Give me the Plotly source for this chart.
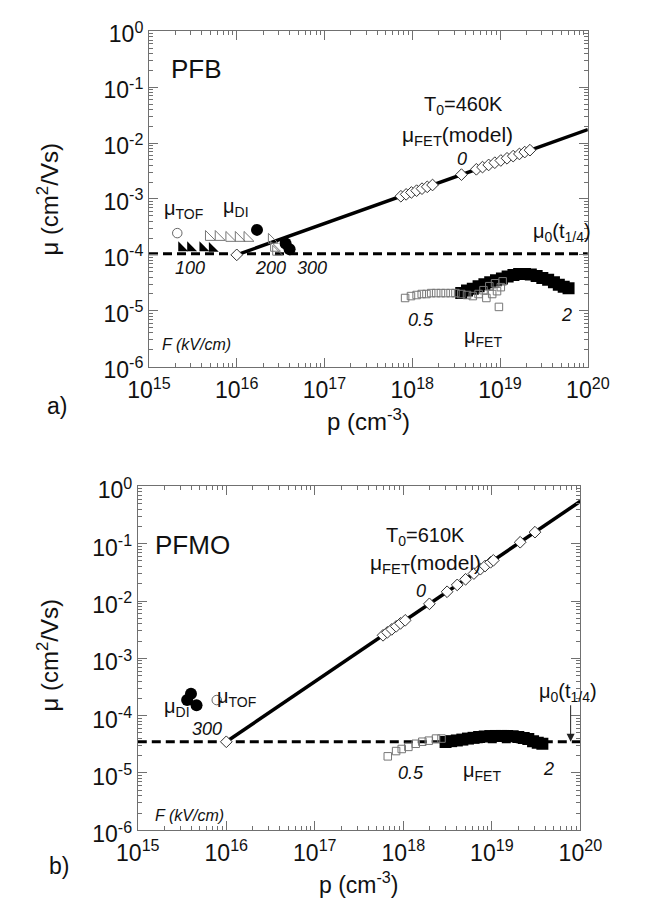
import plotly.graph_objects as go

FONT = "Liberation Sans"

# ---------------- panel a) PFB ----------------
a_model_p = [1.0e16, 1.0e20]
a_model_mu = [1.0e-4, 1.75e-2]
a_mu0 = 1.05e-4
a_diam_p = [1.0e16, 7.41e17, 8.51e17, 9.77e17, 1.12e18, 1.29e18, 1.48e18, 1.70e18, 3.63e18, 5.37e18,
            6.31e18, 7.41e18, 8.71e18, 1.02e19, 1.20e19, 1.41e19, 1.66e19, 1.91e19, 2.19e19]
a_diam_mu = [1.0e-4, 1.12e-3, 1.21e-3, 1.31e-3, 1.41e-3, 1.53e-3, 1.65e-3, 1.78e-3, 2.73e-3, 3.40e-3,
             3.72e-3, 4.07e-3, 4.46e-3, 4.89e-3, 5.35e-3, 5.85e-3, 6.40e-3, 6.92e-3, 7.48e-3]
a_tof_p = [2.1e15]
a_tof_mu = [2.45e-4]
a_di_p = [1.7e16, 3.6e16, 4.0e16]
a_di_mu = [2.8e-4, 1.6e-4, 1.26e-4]
a_trif_p = [2.35e15, 2.97e15, 4.1e15, 5.25e15]
a_trif_mu = [1.33e-4, 1.33e-4, 1.33e-4, 1.30e-4]
a_trio_p = [4.8e15, 6.2e15, 8.2e15, 1.05e16, 1.32e16, 2.5e16, 2.65e16, 2.8e16]
a_trio_mu = [2.08e-4, 2.08e-4, 2.0e-4, 2.0e-4, 2.0e-4, 1.85e-4, 1.33e-4, 1.13e-4]
a_fet_open_p = [8.28e17, 9.66e17, 1.12e18, 1.28e18, 1.45e18, 1.64e18, 1.87e18, 2.12e18, 2.40e18, 2.73e18,
                3.10e18, 3.61e18, 4.20e18, 4.89e18, 5.69e18, 6.47e18, 6.98e18, 7.54e18, 8.13e18, 8.77e18,
                9.23e18, 9.70e18, 1.02e19, 1.07e19]
a_fet_open_mu = [1.69e-5, 1.83e-5, 1.91e-5, 1.99e-5, 1.99e-5, 2.07e-5, 2.07e-5, 2.07e-5, 2.07e-5, 2.07e-5,
                 2.07e-5, 1.99e-5, 1.91e-5, 1.83e-5, 1.99e-5, 2.33e-5, 1.69e-5, 2.75e-5, 1.99e-5, 3.10e-5,
                 2.24e-5, 1.17e-5, 2.64e-5, 3.36e-5]
a_fet_p = [3.61e18, 4.20e18, 4.89e18, 5.69e18, 6.63e18, 7.72e18, 8.99e18, 1.05e19, 1.22e19, 1.42e19,
           1.65e19, 1.92e19, 2.24e19, 2.61e19, 3.03e19, 3.53e19, 4.11e19, 4.67e19, 5.31e19, 6.03e19]
a_fet_mu = [2.07e-5, 2.29e-5, 2.48e-5, 2.75e-5, 2.98e-5, 3.23e-5, 3.50e-5, 3.79e-5, 4.11e-5, 4.37e-5,
            4.55e-5, 4.55e-5, 4.46e-5, 4.20e-5, 3.87e-5, 3.57e-5, 3.23e-5, 2.92e-5, 2.69e-5, 2.53e-5]

# ---------------- panel b) PFMO ----------------
b_model_p = [1.0e16, 1.0e20]
b_model_mu = [3.5e-5, 0.55]
b_mu0 = 3.5e-5
b_diam_p = [1.0e16, 5.9e17, 6.6e17, 7.4e17, 8.3e17, 9.3e17, 1.05e18, 1.97e18, 3.12e18, 4.06e18,
            5.05e18, 6.27e18, 7.41e18, 8.38e18, 9.66e18, 1.04e19, 2.09e19, 3.07e19]
b_diam_mu = [3.5e-5, 2.52e-3, 2.84e-3, 3.20e-3, 3.61e-3, 4.08e-3, 4.60e-3, 8.93e-3, 1.45e-2, 1.91e-2,
             2.39e-2, 3.01e-2, 3.59e-2, 4.07e-2, 4.73e-2, 5.12e-2, 0.106, 0.159]
b_tof_p = [7.8e15]
b_tof_mu = [1.87e-4]
b_di_p = [3.99e15, 3.61e15, 4.61e15]
b_di_mu = [2.41e-4, 1.87e-4, 1.52e-4]
b_fet_open_p = [6.67e17, 8.29e17, 9.59e17, 1.14e18, 1.38e18, 1.64e18, 1.94e18, 2.34e18, 2.70e18]
b_fet_open_mu = [1.95e-5, 2.41e-5, 2.62e-5, 2.85e-5, 3.23e-5, 3.51e-5, 3.66e-5, 3.98e-5, 3.98e-5]
b_fet_p = [3.0e18, 3.47e18, 4.02e18, 4.64e18, 5.37e18, 6.21e18, 7.18e18, 8.31e18, 9.61e18, 1.11e19,
           1.28e19, 1.49e19, 1.72e19, 1.99e19, 2.29e19, 2.58e19, 2.92e19, 3.30e19, 3.72e19]
b_fet_mu = [3.47e-5, 3.59e-5, 3.69e-5, 3.82e-5, 3.98e-5, 4.10e-5, 4.24e-5, 4.33e-5, 4.40e-5, 4.42e-5,
            4.42e-5, 4.42e-5, 4.38e-5, 4.24e-5, 4.06e-5, 3.90e-5, 3.59e-5, 3.37e-5, 3.23e-5]

# ---------------- axes ticks ----------------
x_exps = [15, 16, 17, 18, 19, 20]
y_exps = [-6, -5, -4, -3, -2, -1, 0]
x_tickvals = [10.0 ** e for e in x_exps]
x_ticktext = ["10<sup>%d</sup>" % e for e in x_exps]
y_tickvals = [10.0 ** e for e in y_exps]
y_ticktext = ["10<sup>%d</sup>" % e for e in y_exps]

fig = go.Figure()

GREY = "#707070"


def add_panel(xa, ya, model_p, model_mu, mu0, diam_p, diam_mu, tof_p, tof_mu, di_p, di_mu,
              fo_p, fo_mu, f_p, f_mu, trif=None, trio=None):
    kw = dict(xaxis=xa, yaxis=ya, showlegend=False, hoverinfo="skip")
    fig.add_trace(go.Scatter(x=[10.0 ** x_exps[0], 10.0 ** x_exps[-1]], y=[mu0, mu0], mode="lines",
                             line=dict(color="black", width=3, dash="9px,5px"), **kw))
    fig.add_trace(go.Scatter(x=model_p, y=model_mu, mode="lines",
                             line=dict(color="black", width=3.5), **kw))
    fig.add_trace(go.Scatter(x=diam_p, y=diam_mu, mode="markers",
                             marker=dict(symbol="diamond", size=9, color="white",
                                         line=dict(color="#333", width=1)), **kw))
    if trio is not None:
        fig.add_trace(go.Scatter(x=trio[0], y=trio[1], mode="markers",
                                 marker=dict(symbol="triangle-sw-open", size=11, color="#777",
                                             line=dict(width=1)), **kw))
    if trif is not None:
        fig.add_trace(go.Scatter(x=trif[0], y=trif[1], mode="markers",
                                 marker=dict(symbol="triangle-sw", size=11, color="black",
                                             line=dict(width=0)), **kw))
    fig.add_trace(go.Scatter(x=tof_p, y=tof_mu, mode="markers",
                             marker=dict(symbol="circle-open", size=9.5, color="#666",
                                         line=dict(width=1)), **kw))
    fig.add_trace(go.Scatter(x=di_p, y=di_mu, mode="markers",
                             marker=dict(symbol="circle", size=12, color="black"), **kw))
    fig.add_trace(go.Scatter(x=f_p, y=f_mu, mode="markers",
                             marker=dict(symbol="square", size=12, color="black"), **kw))
    fig.add_trace(go.Scatter(x=fo_p, y=fo_mu, mode="markers",
                             marker=dict(symbol="square-open", size=7.5, color="#777",
                                         line=dict(width=1)), **kw))


add_panel("x", "y", a_model_p, a_model_mu, a_mu0, a_diam_p, a_diam_mu, a_tof_p, a_tof_mu,
          a_di_p, a_di_mu, a_fet_open_p, a_fet_open_mu, a_fet_p, a_fet_mu,
          trif=(a_trif_p, a_trif_mu), trio=(a_trio_p, a_trio_mu))
add_panel("x2", "y2", b_model_p, b_model_mu, b_mu0, b_diam_p, b_diam_mu, b_tof_p, b_tof_mu,
          b_di_p, b_di_mu, b_fet_open_p, b_fet_open_mu, b_fet_p, b_fet_mu)

W, H = 664, 912


def xdom(l, r):
    return [l / W, r / W]


def ydom(t, b):
    return [1 - b / H, 1 - t / H]


def axis(dom, ticks_vals, ticks_text, rng, anchor, shift=0, standoff=0):
    return dict(type="log", domain=dom, range=rng, anchor=anchor,
                tickmode="array", tickvals=ticks_vals, ticktext=ticks_text,
                showline=True, linecolor=GREY, linewidth=1, mirror="allticks",
                ticks="inside", ticklen=9, tickcolor=GREY, tickwidth=1,
                minor=dict(dtick="D1", ticks="inside", ticklen=4,
                           tickcolor=GREY, tickwidth=1, showgrid=False),
                showgrid=False, zeroline=False,
                ticklabelshift=shift, ticklabelstandoff=standoff,
                tickfont=dict(family=FONT, size=23, color="#111"))


fig.update_layout(
    width=W, height=H, margin=dict(l=0, r=0, t=0, b=0),
    paper_bgcolor="white", plot_bgcolor="white",
    xaxis=axis(xdom(136, 606), x_tickvals, x_ticktext, [15, 20], "y", standoff=3),
    yaxis=axis(ydom(18, 365), y_tickvals, y_ticktext, [-6, 0], "x", shift=3),
    xaxis2=axis(xdom(124, 598), x_tickvals, x_ticktext, [15, 20], "y2", standoff=2),
    yaxis2=axis(ydom(489, 845), y_tickvals, y_ticktext, [-6, 0], "x2", shift=4),
)

ann = []


def t(xr, yr, x, y, text, size=18, italic=False, xanchor="center", yanchor="middle"):
    f = dict(family=FONT, size=size, color="#111")
    if italic:
        text = "<i>" + text + "</i>"
    ann.append(dict(xref=xr, yref=yr, x=x, y=y, text=text, showarrow=False, font=f,
                    xanchor=xanchor, yanchor=yanchor))


# panel a texts (data coords: log10 values)
t("x", "y", 15.23, -0.68, "PFB", size=26, xanchor="left")
t("x", "y", 18.58, -1.33, "T<sub>0</sub>=460K", size=20)
t("x", "y", 18.52, -1.88, "μ<sub>FET</sub>(model)", size=21)
t("x", "y", 18.57, -2.28, "0", size=18, italic=True)
t("x", "y", 15.15, -3.18, "μ<sub>TOF</sub>", size=20, xanchor="left")
t("x", "y", 15.82, -3.15, "μ<sub>DI</sub>", size=20, xanchor="left")
t("x", "y", 15.47, -4.23, "100", size=18, italic=True)
t("x", "y", 16.38, -4.23, "200", size=18, italic=True)
t("x", "y", 16.86, -4.23, "300", size=18, italic=True)
t("x", "y", 19.70, -3.60, "μ<sub>0</sub>(t<sub>1/4</sub>)", size=20)
t("x", "y", 18.10, -5.17, "0.5", size=18, italic=True)
t("x", "y", 18.81, -5.48, "μ<sub>FET</sub>", size=20)
t("x", "y", 19.76, -5.08, "2", size=18, italic=True)
t("x", "y", 15.13, -5.60, "F (kV/cm)", size=16, italic=True, xanchor="left")

# panel b texts
t("x2", "y2", 15.17, -1.03, "PFMO", size=26, xanchor="left")
t("x2", "y2", 18.25, -0.88, "T<sub>0</sub>=610K", size=20)
t("x2", "y2", 18.25, -1.36, "μ<sub>FET</sub>(model)", size=21)
t("x2", "y2", 18.20, -1.82, "0", size=18, italic=True)
t("x2", "y2", 15.27, -3.85, "μ<sub>DI</sub>", size=20, xanchor="left")
t("x2", "y2", 15.87, -3.68, "μ<sub>TOF</sub>", size=20, xanchor="left")
t("x2", "y2", 15.78, -4.23, "300", size=18, italic=True)
t("x2", "y2", 19.86, -3.59, "μ<sub>0</sub>(t<sub>1/4</sub>)", size=20)
t("x2", "y2", 18.09, -5.00, "0.5", size=18, italic=True)
t("x2", "y2", 18.89, -4.98, "μ<sub>FET</sub>", size=20)
t("x2", "y2", 19.64, -4.93, "2", size=18, italic=True)
t("x2", "y2", 15.17, -5.75, "F (kV/cm)", size=16, italic=True, xanchor="left")

# arrow in panel b
ann.append(dict(xref="x2", yref="y2", x=19.89, y=-4.456, ax=0, ay=-38, text="",
                showarrow=True, arrowhead=2, arrowsize=1.6, arrowwidth=1, arrowcolor="#222"))


def pt(x, y, text, size=24, angle=0):
    ann.append(dict(xref="paper", yref="paper", x=x / W, y=1 - y / H, text=text, showarrow=False,
                    textangle=angle, font=dict(family=FONT, size=size, color="#111"),
                    xanchor="center", yanchor="middle"))


pt(371, 420, "p (cm<sup>-3</sup>)")
pt(360, 900, "p (cm<sup>-3</sup>)", size=23)
pt(28, 192, "μ (cm<sup>2</sup>/Vs)", angle=-90)
pt(28, 664, "μ (cm<sup>2</sup>/Vs)", angle=-90)
pt(38, 406, "a)", size=23)
pt(40, 882, "b)", size=23)

fig.update_layout(annotations=ann)
fig.write_html("out.html", config={"displayModeBar": False},
               post_script="document.body.style.margin='0';")
